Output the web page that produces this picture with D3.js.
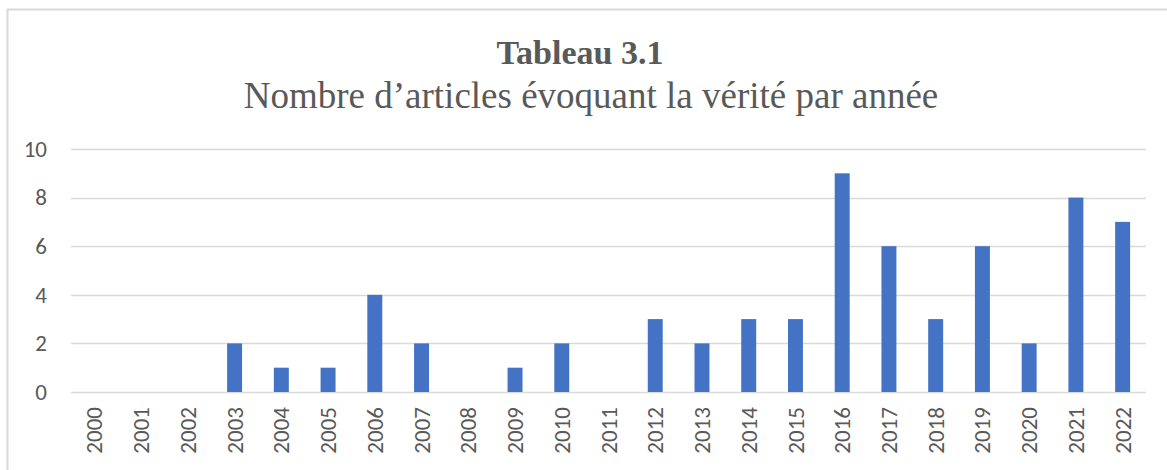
<!DOCTYPE html>
<html>
<head>
<meta charset="utf-8">
<script src="https://cdn.jsdelivr.net/npm/d3@7"></script>
<style>
  body { margin: 0; background: #fff; }
  svg { display: block; }
</style>
</head>
<body>
<div id="chart"></div>
<script>
// Nombre d'articles par année
var years = ["2000","2001","2002","2003","2004","2005","2006","2007","2008","2009","2010","2011",
             "2012","2013","2014","2015","2016","2017","2018","2019","2020","2021","2022"];
var counts = [0,0,0,2,1,1,4,2,0,1,2,0,3,2,3,3,9,6,3,6,2,8,7];
var yTicks = [0,2,4,6,8,10];

var width = 1167, height = 470;
var margin = {top: 149, right: 21, bottom: 78, left: 71};
var plotW = width - margin.left - margin.right;
var plotH = height - margin.top - margin.bottom;
var labelFont = "Carlito, Lato, 'Open Sans', sans-serif";

var svg = d3.select("#chart").append("svg")
    .attr("width", width)
    .attr("height", height);

// outer frame
svg.append("rect")
    .attr("x", 7.5).attr("y", 9.5)
    .attr("width", width + 10).attr("height", height + 10)
    .attr("fill", "none")
    .attr("stroke", "#d9d9d9")
    .attr("stroke-width", 2);

// titles
svg.append("text")
    .attr("x", 580).attr("y", 64)
    .attr("text-anchor", "middle")
    .style("font-family", "'Liberation Serif', 'Times New Roman', serif")
    .style("font-weight", "bold")
    .style("font-size", "34px")
    .attr("fill", "#595959")
    .text("Tableau 3.1");
svg.append("text")
    .attr("x", 591).attr("y", 108)
    .attr("text-anchor", "middle")
    .style("font-family", "'Liberation Serif', 'Times New Roman', serif")
    .style("font-size", "37px")
    .attr("fill", "#595959")
    .text("Nombre d\u2019articles évoquant la vérité par année");

var g = svg.append("g")
    .attr("transform", "translate(" + margin.left + "," + margin.top + ")");

var x = d3.scaleBand().domain(years).range([0, plotW]).paddingInner(0.68).paddingOuter(0.34);
var y = d3.scaleLinear().domain([0, 10]).range([plotH, 0]);

// gridlines
g.selectAll("line.grid")
    .data(yTicks)
    .enter()
    .append("line")
    .attr("class", "grid")
    .attr("x1", 0).attr("x2", plotW)
    .attr("y1", function(d) { return Math.round(y(d)) + 0.5; })
    .attr("y2", function(d) { return Math.round(y(d)) + 0.5; })
    .attr("stroke", "#d9d9d9")
    .attr("stroke-width", 1.5);

// bars
g.selectAll("rect.bar")
    .data(counts)
    .enter()
    .append("rect")
    .attr("class", "bar")
    .attr("x", function(d, i) { return x(years[i]); })
    .attr("width", x.bandwidth())
    .attr("y", function(d) { return y(d); })
    .attr("height", function(d) { return plotH - y(d); })
    .attr("fill", "#4472c4");

// y axis labels
var yAxis = g.append("g")
    .call(d3.axisLeft(y).tickValues(yTicks).tickSize(0).tickPadding(24));
yAxis.select(".domain").remove();
yAxis.selectAll("text")
    .style("font-family", labelFont)
    .style("font-size", "23px")
    .attr("fill", "#595959");

// x axis labels
var xAxis = g.append("g")
    .attr("transform", "translate(0," + plotH + ")")
    .call(d3.axisBottom(x).tickSize(0).tickPadding(0));
xAxis.select(".domain").remove();
xAxis.selectAll("text")
    .style("font-family", labelFont)
    .style("font-size", "23px")
    .attr("fill", "#595959")
    .attr("text-anchor", "end")
    .attr("dy", "0.35em")
    .attr("transform", "translate(0,15) rotate(-90)")
    .attr("x", 0).attr("y", 0);
</script>
</body>
</html>
